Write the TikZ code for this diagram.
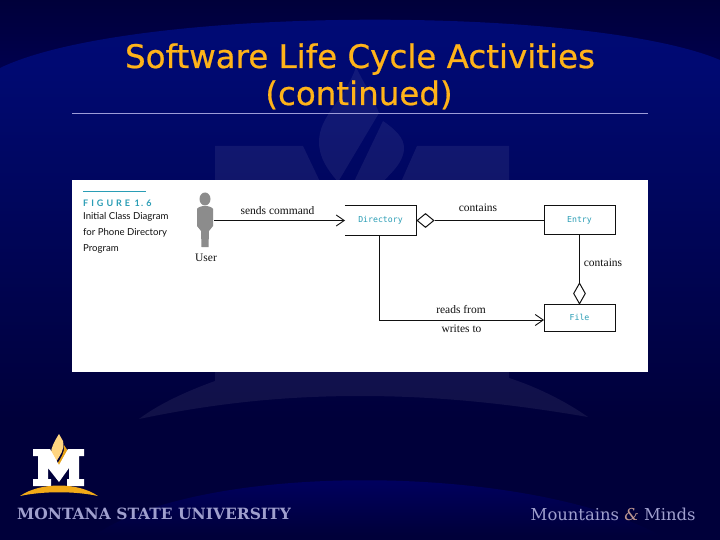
\documentclass[tikz,border=0pt]{standalone}
\usepackage{fontspec}
\setmainfont{Liberation Serif}
\newfontfamily\titlefont[FakeBold=0.6]{DejaVu Sans}
\newfontfamily\monof{DejaVu Sans Mono}
\newfontfamily\capf{Lato}
\newfontfamily\brandf{DejaVu Serif}
\usetikzlibrary{arrows.meta,shapes.geometric,calc,positioning}
\definecolor{deep}{HTML}{00003A}
\definecolor{topdark}{HTML}{00004E}
\definecolor{midblue}{HTML}{000A76}
\definecolor{arcblue}{HTML}{00006A}
\definecolor{gold}{HTML}{FFB319}
\definecolor{rulec}{HTML}{9C9CD8}
\definecolor{teal1}{HTML}{2A9DB5}
\definecolor{brand}{HTML}{A0A0CE}
\definecolor{ink}{HTML}{111111}
\newcommand{\boxlabel}[1]{\raisebox{-1.5pt}{#1}}
\tikzset{
  x=1pt,y=-1pt,
  classtext/.style={fill=white,minimum width=71pt,inner sep=0pt,font=\monof\fontsize{8.2}{10}\selectfont,text=teal1},
  classbox/.style={classtext,draw=ink,line width=1pt},
  link/.style={draw=ink,line width=1pt},
  navi/.style={-{Straight Barb[length=8pt,width=11pt,line width=.9pt]}},
  lbl/.style={font=\fontsize{11.5}{12}\selectfont,text=ink,inner sep=0pt},
  agg/.style={diamond,draw=ink,fill=white,line width=1pt,inner sep=0pt,aspect=1.25,minimum width=17pt,minimum height=14pt},
  aggv/.style={diamond,draw=ink,fill=white,line width=1pt,inner sep=0pt,aspect=.55,minimum width=12pt,minimum height=21pt},
  titletext/.style={font=\titlefont\fontsize{32.5}{37}\selectfont,inner sep=0pt,anchor=base,text=gold},
  brandtext/.style={font=\brandf\fontsize{16.4}{18}\selectfont,text=brand,inner sep=0pt,anchor=base west},
  wmark/.style={fill=white,fill opacity=.065}
}
\begin{document}
\begin{tikzpicture}
\useasboundingbox (0,0) rectangle (720,540);
% background
\fill[deep] (0,0) rectangle (720,540);
\shade[top color=deep,bottom color=topdark] (0,0) rectangle (720,70);
\shade[top color=midblue!92!deep,bottom color=deep] (0,70) rectangle (720,420);
\shade[top color=midblue,bottom color=midblue!92!deep]
  (0,68) .. controls (130,5) and (590,5) .. (720,60) -- (720,70.5) -- (0,70.5) -- cycle;
\shade[top color=arcblue,bottom color=deep]
  (95,535) .. controls (200,462) and (520,462) .. (660,535) -- cycle;
% watermark
\fill[wmark] (215,146) -- (303,146) -- (362,270) -- (417,146) -- (509,146) -- (509,378)
  .. controls (540,388) and (568,403) .. (588,417)
  .. controls (500,402) and (430,396) .. (360,396)
  .. controls (290,396) and (220,402) .. (139,419)
  .. controls (160,403) and (190,390) .. (215,381) -- cycle;
\fill[wmark] (356,67) .. controls (345,100) and (319,115) .. (319,142) .. controls (319,158) and (328,170) .. (338,182)
  -- (379,113) .. controls (372,95) and (362,80) .. (356,67) -- cycle;
\fill[wmark] (383,121) .. controls (396,130) and (404,138) .. (404,148) .. controls (404,165) and (385,178) .. (375,190)
  -- (350,190) -- cycle;
% title
\node[titletext] (title1) at (360,68) {Software Life Cycle Activities};
\node[titletext] (title2) at (359,105) {(continued)};
\fill[rulec] (72,113) rectangle (648,114.5);
% figure panel
\fill[white] (72,180) rectangle (648,372);
\fill[teal1] (83,191.5) rectangle (146,192.3);
\node[anchor=west,inner sep=0pt,font=\capf\bfseries\fontsize{9}{10}\selectfont,text=teal1] (figlab) at (83,203) {F\,\,I\,\,G\,\,U\,\,R\,\,E\ \ 1\,.\,\,6};
\node[anchor=north west,align=left,inner sep=0pt,font=\capf\fontsize{9.6}{16}\selectfont,text=ink] (figcap) at (83,212.5) {Initial Class Diagram\\for Phone Directory\\Program};
% user
\fill[black!45] (205,199) ellipse (5.5 and 6.5);
\fill[black!45] (197,209) .. controls (199,205) and (211,205) .. (213,209) -- (213,226) -- (209,231) -- (208.5,247) -- (201.5,247) -- (201,231) -- (197,226) -- cycle;
\coordinate (userarm) at (214,220.5);
\node[lbl] (userlbl) at (206,258) {User};
% classes
\node[classtext,minimum height=29pt] (dir) at (380.5,220.5) {\boxlabel{Directory}};
\draw[link] (dir.north west) -- (dir.north east) -- (dir.south east) -- (dir.south west);
\node[classbox,minimum height=28pt] (entry) at (579.5,220) {\boxlabel{Entry}};
\node[classbox,minimum height=27pt] (file) at (579.5,317.5) {\boxlabel{File}};
% aggregations
\node[agg] (aggdir) at (425.5,220.5) {};
\node[aggv] (aggfile) at (579.5,293.5) {};
% connectors
\coordinate (dirin) at (345,220.5);
\draw[link,navi] (userarm) -- (dirin);
\draw[link] (aggdir.east) -- (aggdir.east -| entry.west);
\draw[link] (entry.south) -- (aggfile.north);
\coordinate (corner) at (379.5,320);
\coordinate (filein) at (544,320);
\draw[link,navi] (corner |- dir.south) -- (corner) -- (filein);
% labels
\node[lbl] (l1) at (277.5,210.5) {sends command};
\node[lbl] (l2) at (478,207.5) {contains};
\node[lbl] (l3) at (603,262.5) {contains};
\node[lbl] (l4) at (461,309.5) {reads from};
\node[lbl] (l5) at (461.5,328.5) {writes to};
% logo
\fill[gold!55!white] (59,434) .. controls (54,442) and (51,448) .. (51,453) .. controls (53,457) and (55,460) .. (56,462) .. controls (60,455) and (65,450) .. (63,441) -- cycle;
\fill[gold!90!black] (64,445) .. controls (65,452) and (61,458) .. (57,464) -- (59,466) .. controls (63,461) and (68,456) .. (68,451) -- cycle;
\fill[white] (33,449) -- (50,449) -- (59,465) -- (68,449) -- (84,449) -- (84,456) -- (79,456) -- (79,479) -- (84,479) -- (84,486) -- (67,486) -- (67,479) -- (69,479) -- (69,468) -- (59,482) -- (48,468) -- (48,479) -- (51,479) -- (51,486) -- (33,486) -- (33,479) -- (38,479) -- (38,456) -- (33,456) -- cycle;
\fill[gold!95!black] (20,496) .. controls (40,482) and (78,482) .. (98,496) .. controls (75,491) and (43,491) .. (20,496) -- cycle;
\node[brandtext,font=\brandf\bfseries\fontsize{15.5}{18}\selectfont] (msu) at (17,519.5) {MONTANA STATE UNIVERSITY};
\node[brandtext] (mm) at (530.5,520) {Mountains {\itshape\color{brand!70!orange}\&} Minds};
\end{tikzpicture}
\end{document}
